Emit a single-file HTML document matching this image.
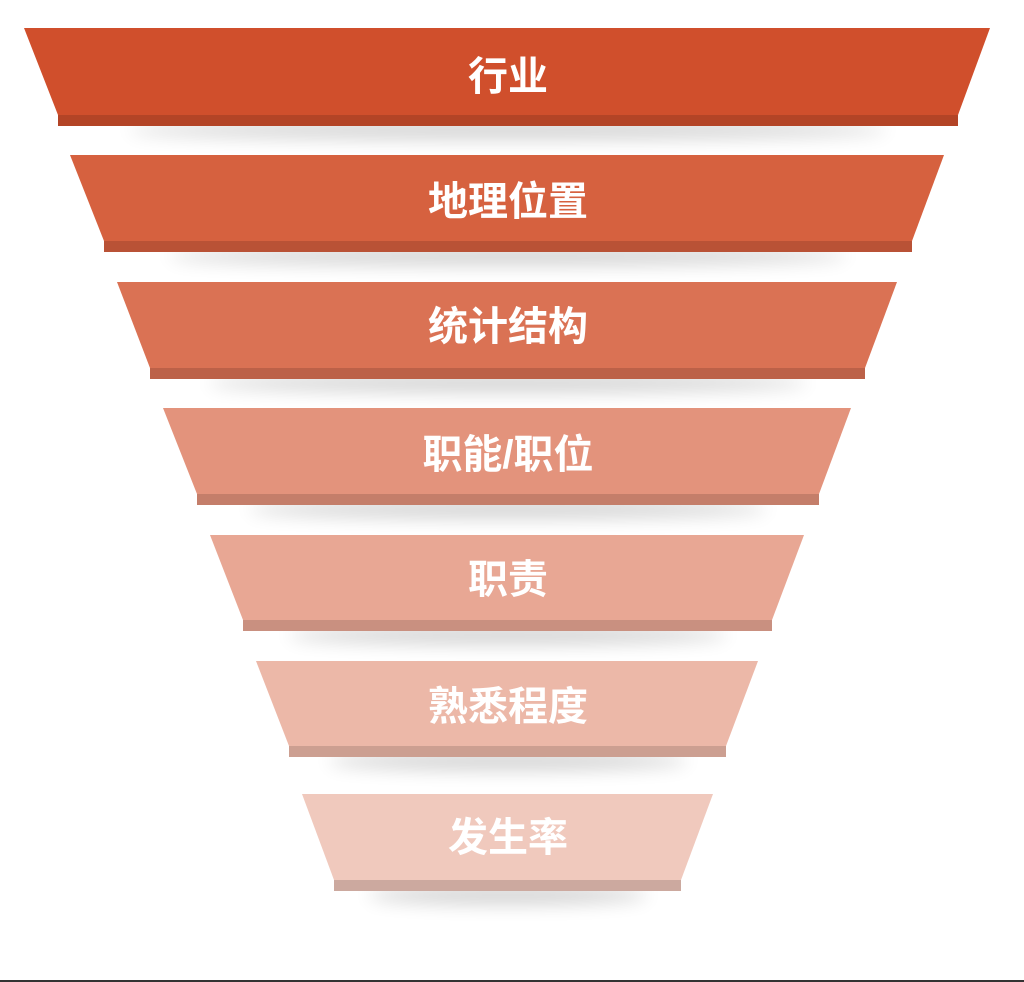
<!DOCTYPE html>
<html><head><meta charset="utf-8"><style>
html,body{margin:0;padding:0;background:#fff;width:1024px;height:982px;overflow:hidden}
text{font-family:"Liberation Sans","Noto Sans CJK SC",sans-serif;font-weight:bold;font-size:40px;fill:#fff}
</style></head><body>
<svg width="1024" height="982" viewBox="0 0 1024 982">
<defs><filter id="b" x="-20%" y="-100%" width="140%" height="300%"><feGaussianBlur stdDeviation="9"/></filter></defs>
<g filter="url(#b)" fill="#000" opacity="0.18">
<ellipse cx="508" cy="130" rx="380" ry="9"/>
<ellipse cx="508" cy="256" rx="340" ry="9"/>
<ellipse cx="508" cy="383" rx="300" ry="9"/>
<ellipse cx="508" cy="509" rx="260" ry="9"/>
<ellipse cx="508" cy="635" rx="220" ry="9"/>
<ellipse cx="508" cy="761" rx="180" ry="9"/>
<ellipse cx="508" cy="895" rx="140" ry="9"/>
</g>
<polygon points="24,28 990,28 958,115 58,115" fill="#d04f2c"/><rect x="58" y="115" width="900" height="11" fill="#b34426"/>
<polygon points="70,155 944,155 912,241 104,241" fill="#d6613f"/><rect x="104" y="241" width="808" height="11" fill="#b95236"/>
<polygon points="117,282 897,282 865,368 150,368" fill="#da7254"/><rect x="150" y="368" width="715" height="11" fill="#bc6148"/>
<polygon points="163,408 851,408 819,494 197,494" fill="#e3937c"/><rect x="197" y="494" width="622" height="11" fill="#c47e6a"/>
<polygon points="210,535 804,535 772,620 243,620" fill="#e8a794"/><rect x="243" y="620" width="529" height="11" fill="#c99080"/>
<polygon points="256,661 758,661 726,746 289,746" fill="#ecb8a8"/><rect x="289" y="746" width="437" height="11" fill="#cc9f91"/>
<polygon points="302,794 713,794 681,880 334,880" fill="#f0c9bd"/><rect x="334" y="880" width="347" height="11" fill="#cca99f"/>
<g text-anchor="middle">
<text x="508" y="90">行业</text>
<text x="508" y="215">地理位置</text>
<text x="508" y="340">统计结构</text>
<text x="508" y="468">职能/职位</text>
<text x="508" y="593">职责</text>
<text x="508" y="720">熟悉程度</text>
<text x="508" y="851">发生率</text>
</g>
<rect x="0" y="980" width="1024" height="2" fill="#333"/>
</svg>
</body></html>
